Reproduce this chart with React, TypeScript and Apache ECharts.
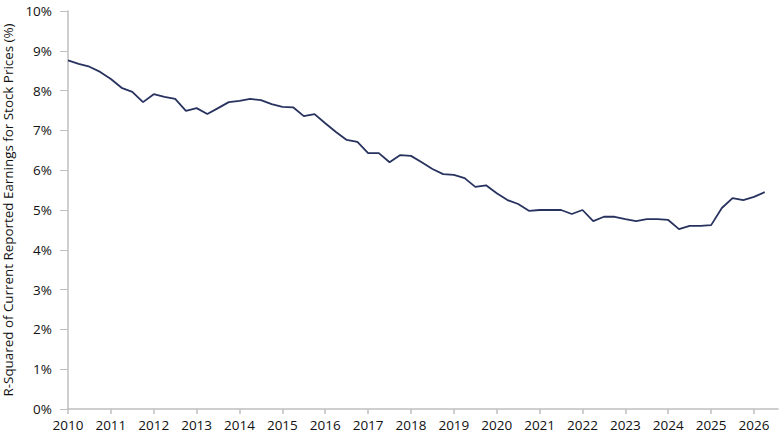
import React, { useEffect, useRef } from 'react';
import * as echarts from 'echarts';

// quarterly observations, first one at the start of 2010
const startYear = 2010;
const rSquared = [
  8.76, 8.67, 8.6, 8.47,
  8.29, 8.07, 7.97, 7.71,
  7.91, 7.84, 7.79, 7.49,
  7.56, 7.41, 7.56, 7.71,
  7.74, 7.79, 7.76, 7.66,
  7.59, 7.58, 7.36, 7.41,
  7.18, 6.96, 6.76, 6.71,
  6.43, 6.43, 6.2, 6.38,
  6.36, 6.2, 6.03, 5.9,
  5.88, 5.8, 5.58, 5.62,
  5.42, 5.25, 5.15, 4.98,
  5.0, 5.0, 5.0, 4.9,
  5.0, 4.72, 4.83, 4.83,
  4.77, 4.72, 4.77, 4.77,
  4.75, 4.52, 4.6, 4.6,
  4.62, 5.05, 5.3, 5.25,
  5.33, 5.45,
];
const yearTicks = [
  2010, 2011, 2012, 2013, 2014, 2015, 2016, 2017, 2018,
  2019, 2020, 2021, 2022, 2023, 2024, 2025, 2026,
];
const yAxisTitle = 'R-Squared of Current Reported Earnings for Stock Prices (%)';

const FONT = '"Open Sans", "Noto Sans", sans-serif';
const AXIS_GRAY = '#bfbfbf';

const App: React.FC = () => {
  const chartRef = useRef<HTMLDivElement>(null);

  useEffect(() => {
    document.body.style.margin = '0';
    if (!chartRef.current) return;
    const chart = echarts.init(chartRef.current, undefined, { renderer: 'svg' });
    chart.setOption({
      animation: false,
      grid: { left: 68, right: 2, top: 11, bottom: 31, containLabel: false, outerBoundsMode: 'none' },
      xAxis: {
        type: 'value',
        min: 2010,
        max: 2026.56,
        interval: 1,
        splitLine: { show: false },
        axisLine: { lineStyle: { color: AXIS_GRAY, width: 1.5 } },
        axisTick: { customValues: yearTicks, length: 5, lineStyle: { color: AXIS_GRAY, width: 1.5 } },
        axisLabel: {
          customValues: yearTicks,
          formatter: (v: number) => String(v),
          color: '#111',
          fontFamily: FONT,
          fontSize: 13.5,
          margin: 9,
        },
      },
      yAxis: {
        type: 'value',
        min: 0,
        max: 10,
        interval: 1,
        name: yAxisTitle,
        nameLocation: 'middle',
        nameGap: 54,
        nameTextStyle: { color: '#111', fontFamily: FONT, fontSize: 13.4 },
        splitLine: { show: false },
        axisLine: { show: true, lineStyle: { color: AXIS_GRAY, width: 1.5 } },
        axisTick: { show: true, length: 8, lineStyle: { color: AXIS_GRAY, width: 1 } },
        axisLabel: {
          formatter: '{value}%',
          color: '#111',
          fontFamily: FONT,
          fontSize: 13.5,
          margin: 16,
        },
      },
      series: [
        {
          type: 'line',
          data: rSquared.map((v, i) => [startYear + i / 4, v]),
          showSymbol: false,
          lineStyle: { color: '#27325f', width: 1.8 },
        },
      ],
    });
    return () => chart.dispose();
  }, []);

  return <div ref={chartRef} style={{ width: 780, height: 440 }} />;
};

export default App;
